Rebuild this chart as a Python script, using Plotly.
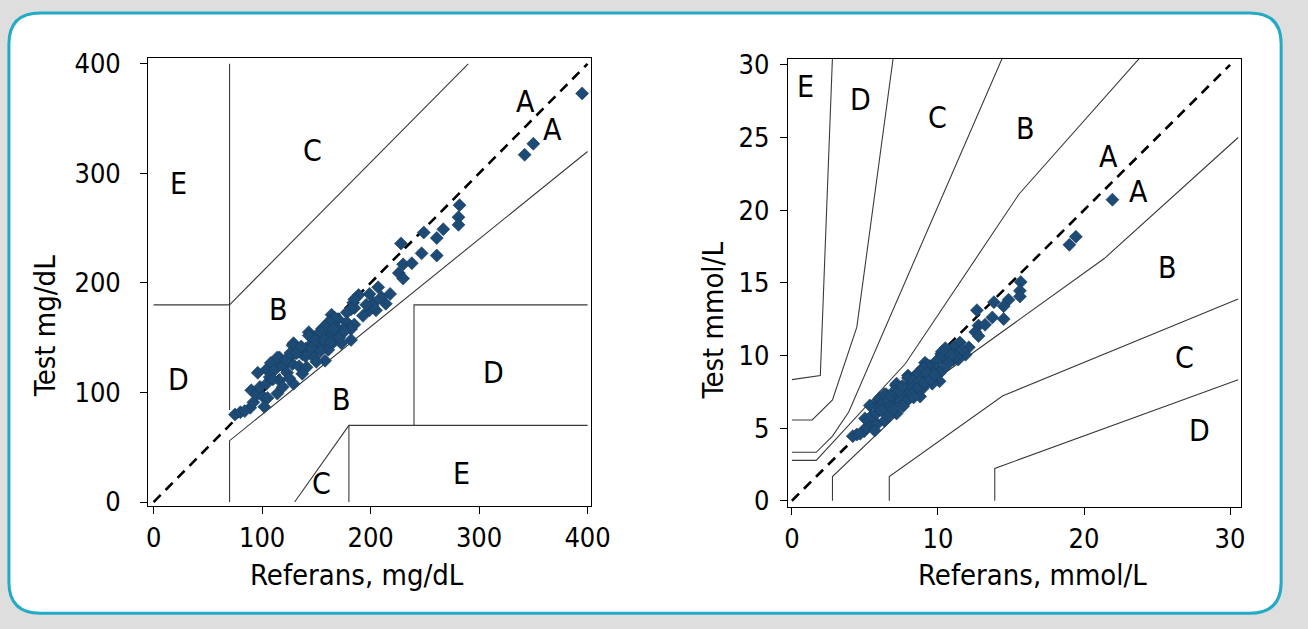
import plotly.graph_objects as go

# Paired glucose readings (reference method vs. test meter), mg/dL
ref_mgdl = [
    395, 350, 342,
    282, 281, 281, 267, 261, 249, 228, 247, 261, 230, 238, 226, 230, 207, 199, 218, 203,
    214, 199, 205, 184, 185, 189, 185, 202, 196, 182, 178, 164, 170, 178, 185, 161, 167,
    175, 182, 155, 163, 170, 182, 143, 149, 158, 166, 173, 146, 155, 161, 140, 149, 137,
    167, 163, 158, 166, 154, 143, 149, 157, 163, 129, 137, 145, 154, 131, 126, 140, 148,
    158, 116, 120, 111, 128, 134, 141, 137, 104,
    75, 80, 89, 92, 96, 90, 95, 101, 105, 98, 104, 108, 111, 107, 116, 114, 119, 123,
    122, 128, 126, 132, 129, 136, 102, 114, 119, 84, 110, 125, 150, 171, 176, 193, 210,
]
test_mgdl = [
    373, 327, 317,
    271, 260, 253, 249, 241, 246, 236, 227, 225, 217, 218, 209, 204, 196, 190, 190, 182,
    181, 175, 175, 182, 177, 189, 185, 179, 180, 176, 173, 171, 167, 164, 162, 164, 161,
    158, 158, 158, 155, 154, 148, 155, 151, 149, 146, 145, 145, 143, 139, 140, 138, 135,
    168, 164, 160, 158, 155, 152, 148, 148, 146, 145, 140, 140, 138, 136, 133, 133, 132,
    129, 132, 127, 127, 126, 124, 123, 117, 121,
    80, 82, 86, 91, 118, 102, 98, 96, 95, 105, 108, 127, 120, 114, 111, 132, 124, 118,
    130, 143, 136, 136, 108, 142, 87, 99, 105, 83, 112, 113, 128, 150, 156, 170, 187,
]
MGDL_PER_MMOL = 18.0
ref_mmol = [v / MGDL_PER_MMOL for v in ref_mgdl]
test_mmol = [v / MGDL_PER_MMOL for v in test_mgdl]

# Clarke error grid zone boundaries, mg/dL (x values, y values)
clarke_x = [
    [70, 70], [0, 70], [70, 290], [70, 70, 400],
    [130, 180, 400], [180, 180], [240, 240, 400],
]
clarke_y = [
    [84, 400], [180, 180], [180, 400], [0, 56, 320],
    [0, 70, 70], [0, 70], [70, 180, 180],
]

# Parkes (consensus) error grid boundaries, type 1, mg/dL
parkes_x = [
    [0, 30, 140, 280, 430],
    [50, 50, 170, 385, 550],
    [0, 30, 50, 70, 260],
    [120, 120, 260, 550],
    [0, 25, 50, 80, 125],
    [250, 250, 550],
    [0, 35, 50],
]
parkes_y = [
    [50, 50, 170, 380, 550],
    [0, 30, 145, 300, 450],
    [60, 60, 80, 110, 550],
    [0, 30, 130, 250],
    [100, 100, 125, 215, 550],
    [0, 40, 150],
    [150, 155, 550],
]

clarke_ticks = [0, 100, 200, 300, 400]
parkes_xticks = [0, 10, 20, 30]
parkes_yticks = [0, 5, 10, 15, 20, 25, 30]

clarke_zone_text = ["E", "C", "B", "D", "A", "A", "D", "B", "C", "E"]
clarke_zone_pos = [(23, 291), (146, 321), (115, 176), (23, 112), (343, 366),
                   (368, 340), (313, 118), (173, 94), (155, 17), (284, 26)]
parkes_zone_text = ["E", "D", "C", "B", "A", "A", "B", "C", "D"]
parkes_zone_pos = [(0.95, 28.5), (4.7, 27.6), (9.95, 26.35), (16.0, 25.6), (21.7, 23.7),
                   (23.7, 21.25), (25.75, 16.05), (26.85, 9.85), (27.9, 4.85)]

FONT = "DejaVu Sans Condensed, Liberation Sans Narrow, sans-serif"
LINE_COL = "#3a3a3a"
MARKER_COL = "#1d4b76"
W, H = 1308, 629

fig = go.Figure()

# Clarke panel
for xs, ys in zip(clarke_x, clarke_y):
    fig.add_trace(go.Scatter(x=xs, y=ys, mode="lines", xaxis="x", yaxis="y",
                             line=dict(color=LINE_COL, width=1.1), hoverinfo="skip"))
fig.add_trace(go.Scatter(x=[0, 400], y=[0, 400], mode="lines", xaxis="x", yaxis="y",
                         line=dict(color="black", width=2.6, dash="10px,7px"),
                         hoverinfo="skip"))
fig.add_trace(go.Scatter(x=ref_mgdl, y=test_mgdl, mode="markers", xaxis="x", yaxis="y",
                         marker=dict(symbol="diamond", size=10, color=MARKER_COL,
                                     line=dict(width=0.6, color="#163c60"))))

# Parkes panel
for xs, ys in zip(parkes_x, parkes_y):
    fig.add_trace(go.Scatter(x=[v / MGDL_PER_MMOL for v in xs],
                             y=[v / MGDL_PER_MMOL for v in ys],
                             mode="lines", xaxis="x2", yaxis="y2",
                             line=dict(color=LINE_COL, width=1.1), hoverinfo="skip"))
fig.add_trace(go.Scatter(x=[0, 30], y=[0, 30], mode="lines", xaxis="x2", yaxis="y2",
                         line=dict(color="black", width=2.6, dash="10px,7px"),
                         hoverinfo="skip"))
fig.add_trace(go.Scatter(x=ref_mmol, y=test_mmol, mode="markers", xaxis="x2", yaxis="y2",
                         marker=dict(symbol="diamond", size=10, color=MARKER_COL,
                                     line=dict(width=0.6, color="#163c60"))))

axis_common = dict(showgrid=False, zeroline=False, showline=True, mirror=True,
                   linecolor="black", linewidth=1.4, ticks="outside", ticklen=7,
                   tickwidth=1, tickcolor="black",
                   tickfont=dict(family=FONT, size=27, color="black"))

annotations = []
zone_font = dict(family=FONT, size=30, color="black")
for t, (x, y) in zip(clarke_zone_text, clarke_zone_pos):
    annotations.append(dict(x=x, y=y, xref="x", yref="y", text=t, showarrow=False,
                            font=zone_font))
for t, (x, y) in zip(parkes_zone_text, parkes_zone_pos):
    annotations.append(dict(x=x, y=y, xref="x2", yref="y2", text=t, showarrow=False,
                            font=zone_font))

title_font = dict(family=FONT, size=29, color="black")
for text, px, py, ang in [("Referans, mg/dL", 359, 584, 0), ("Test mg/dL", 42, 327, -90),
                          ("Referans, mmol/L", 1047, 584, 0), ("Test mmol/L", 722, 321, -90)]:
    annotations.append(dict(x=px / W, y=1 - py / H, xref="paper", yref="paper",
                            text=text, showarrow=False, textangle=ang, font=title_font,
                            xanchor="center", yanchor="middle"))

# rounded outer frame
x0, x1 = 5 / W, 1300 / W
y0, y1 = 1 - 624 / H, 1 - 3 / H
rx, ry = 32 / W, 32 / H
frame_path = (f"M {x0 + rx},{y1} L {x1 - rx},{y1} Q {x1},{y1} {x1},{y1 - ry} "
              f"L {x1},{y0 + ry} Q {x1},{y0} {x1 - rx},{y0} "
              f"L {x0 + rx},{y0} Q {x0},{y0} {x0},{y0 + ry} "
              f"L {x0},{y1 - ry} Q {x0},{y1} {x0 + rx},{y1} Z")

fig.update_layout(
    width=W, height=H, autosize=False,
    margin=dict(l=0, r=0, t=0, b=0),
    paper_bgcolor="#dedede", plot_bgcolor="rgba(0,0,0,0)",
    showlegend=False,
    xaxis=dict(axis_common, domain=[147 / W, 598 / W], range=[-4.8, 403.6],
               tickvals=clarke_ticks, anchor="y", ticklabelstandoff=1),
    yaxis=dict(axis_common, domain=[1 - 513 / H, 1 - 50 / H], range=[-3.5, 405],
               tickvals=clarke_ticks, anchor="x", ticklabelstandoff=14),
    xaxis2=dict(axis_common, domain=[798 / W, 1259 / W], range=[-0.27, 30.74],
                tickvals=parkes_xticks, anchor="y2", ticklabelstandoff=1),
    yaxis2=dict(axis_common, domain=[1 - 514 / H, 1 - 50.7 / H], range=[-0.42, 30.4],
                tickvals=parkes_yticks, anchor="x2", ticklabelstandoff=5),
    annotations=annotations,
    shapes=[dict(type="path", path=frame_path, xref="paper", yref="paper",
                 fillcolor="white", line=dict(color="#22aac6", width=3), layer="below")],
)

fig.write_html("out.html")
